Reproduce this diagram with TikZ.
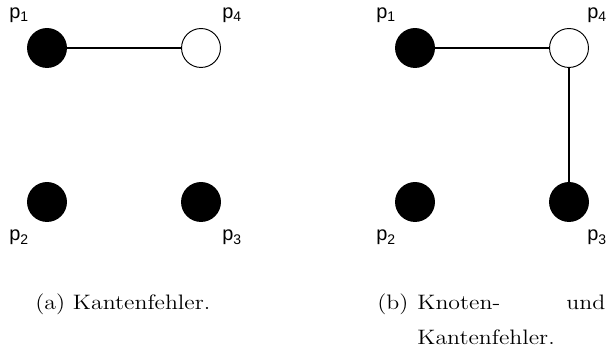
\documentclass[tikz,border=0pt]{standalone}
\usepackage{fontspec}
\usepackage{graphicx}
\newfontfamily\labfont{Liberation Sans}
\begin{document}
\begin{tikzpicture}[x=0.5263pt,y=-0.5263pt,
  vtx/.style={circle,draw=black,line width=0.5pt,minimum size=20.5pt,inner sep=0pt},
  fullv/.style={vtx,fill=black},
  emptyv/.style={vtx,fill=white},
  lab/.style={anchor=base west,inner sep=0pt,font=\labfont\fontsize{10.5}{12}\selectfont},
  captext/.style={anchor=base west,inner sep=0pt,font=\fontsize{11}{18.4}\selectfont},
  conn/.style={line width=1pt}]
\useasboundingbox (0,0) rectangle (609,349);
% panel (a)
\node[fullv]  (a1) at (47,48) {};
\node[emptyv] (a4) at (201,48) {};
\node[fullv]  (a2) at (47,202) {};
\node[fullv]  (a3) at (201,202) {};
\draw[conn] (a1) -- (a4);
\node[lab] (la1) at (9,18.5) {p\textsubscript{1}};
\node[lab] (la4) at (222,18.5) {p\textsubscript{4}};
\node[lab] (la2) at (9,241) {p\textsubscript{2}};
\node[lab] (la3) at (222,241) {p\textsubscript{3}};
\node[captext] (capa) at (35,310) {\scalebox{1.14}[1]{(a) Kantenfehler.}};
% panel (b)
\node[fullv]  (b1) at (415,48) {};
\node[emptyv] (b4) at (569,48) {};
\node[fullv]  (b2) at (415,202) {};
\node[fullv]  (b3) at (569,202) {};
\draw[conn] (b1) -- (b4);
\draw[conn] (b4) -- (b3);
\node[lab] (lb1) at (376,18.5) {p\textsubscript{1}};
\node[lab] (lb4) at (587,18.5) {p\textsubscript{4}};
\node[lab] (lb2) at (376,241) {p\textsubscript{2}};
\node[lab] (lb3) at (587,241) {p\textsubscript{3}};
\node[captext] (capbl) at (377,310) {\scalebox{1.14}[1]{(b)}};
\node[captext] (capb) at (417,310) {\scalebox{1.14}[1]{\parbox[t]{86.8pt}{\fontsize{11}{18.4}\selectfont Knoten-\hfill und\\Kantenfehler.}}};
\end{tikzpicture}
\end{document}
